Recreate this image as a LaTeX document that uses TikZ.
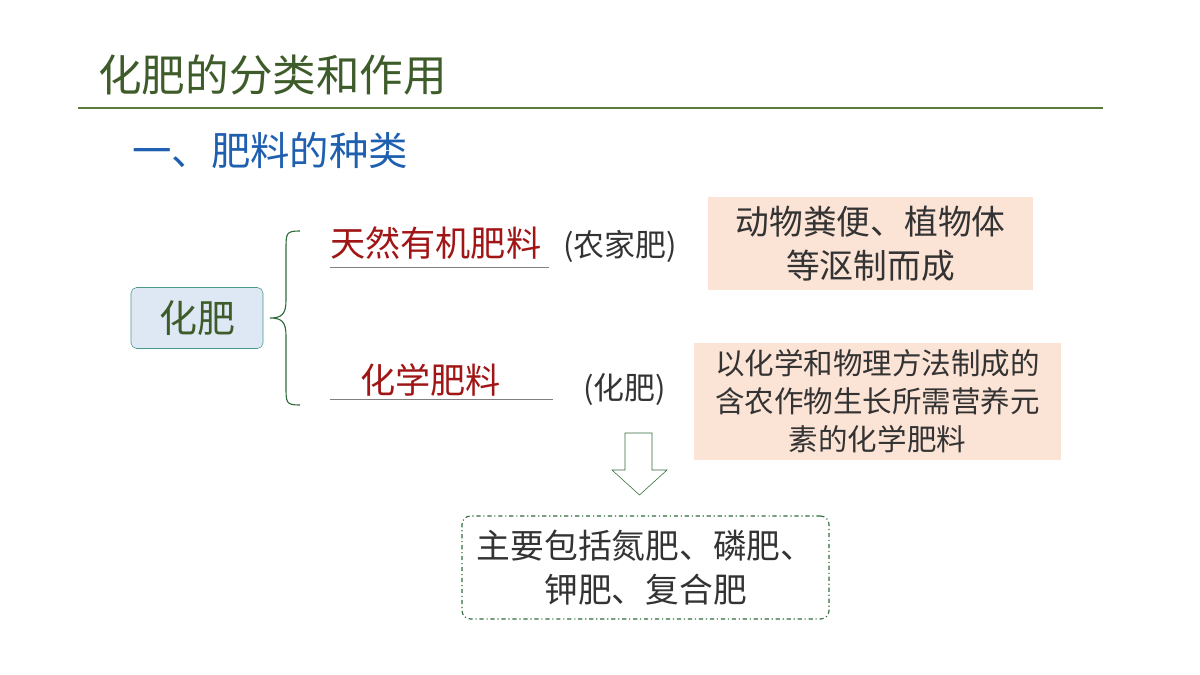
\documentclass[tikz,border=0pt]{standalone}
\usepackage{fontspec}
\setmainfont{Noto Sans CJK SC}
\usetikzlibrary{positioning}
\definecolor{titlegreen}{HTML}{3E5B2A}
\definecolor{rulegreen}{HTML}{5B7B3A}
\definecolor{subblue}{HTML}{1F5FAF}
\definecolor{darkred}{HTML}{A01515}
\definecolor{peach}{HTML}{FBE3D6}
\definecolor{paleblue}{HTML}{DDE8F4}
\definecolor{tealc}{HTML}{4A9A8A}
\definecolor{boxgreen}{HTML}{2F6B3A}
\definecolor{textdark}{HTML}{333333}
\tikzset{
  note/.style={fill=peach, inner sep=0pt, align=center, text=textdark},
  kind/.style={text=darkred, font=\fontsize{25}{30}\selectfont, inner sep=0pt},
  alias/.style={text=textdark, font=\fontsize{22}{26}\selectfont, inner sep=0pt}
}
\begin{document}
\begin{tikzpicture}[x=0.025cm, y=-0.025cm]
  \useasboundingbox (0,0) rectangle (1200,675);

  % Title
  \node[anchor=west, text=titlegreen, font=\fontsize{31}{36}\selectfont, inner sep=0pt] (title) at (98,75) {化肥的分类和作用};
  \draw[rulegreen, line width=1.5pt] (78,108) -- (1103,108);
  \node[anchor=west, text=subblue, font=\fontsize{28}{32}\selectfont, inner sep=0pt] (sub) at (132,150) {一、肥料的种类};

  % Root
  \node[draw=tealc, fill=paleblue, rounded corners=4pt, minimum width=132*0.025cm, minimum height=61*0.025cm,
        text=titlegreen, font=\fontsize{27}{30}\selectfont] (root) at (197,318) {化肥};

  % Brace
  \draw[boxgreen, thick] (300,231) .. controls (286,231) and (286,233) .. (286,250)
    -- (286,300) .. controls (286,314) and (282,318) .. (270,318)
    .. controls (282,318) and (286,322) .. (286,336)
    -- (286,386) .. controls (286,403) and (286,405) .. (300,405);

  % Natural fertiliser
  \node[kind, anchor=west] (natural) at (330,243) {天然有机肥料};
  \draw[gray] (330,267) -- (549,267);
  \node[alias, anchor=west] (farm) at (563,246) {(农家肥)};
  \node[note, minimum width=325*0.025cm, minimum height=93*0.025cm, font=\fontsize{24}{31}\selectfont]
    (noteA) at (870.5,243.5) {动物粪便、植物体\\等沤制而成};

  % Chemical fertiliser
  \node[kind, anchor=west] (chem) at (360,380) {化学肥料};
  \draw[gray] (330,399) -- (553,399);
  \node[alias, anchor=west] (short) at (583,390) {(化肥)};
  \node[note, minimum width=367*0.025cm, minimum height=117*0.025cm, font=\fontsize{21}{27}\selectfont]
    (noteB) at (877.5,401.5) {以化学和物理方法制成的\\含农作物生长所需营养元\\素的化学肥料};

  % Hollow arrow
  \draw[boxgreen, fill=white] (625,433) -- (652,433) -- (652,470) -- (667,470) -- (639.5,495)
    -- (612,470) -- (625,470) -- cycle;

  % Result box
  \node[draw=boxgreen, thick, dash dot, rounded corners=6pt, minimum width=367*0.025cm,
        minimum height=103*0.025cm, align=center, text=textdark, font=\fontsize{24}{31}\selectfont]
    (kinds) at (645.5,567.5) {主要包括氮肥、磷肥、\\钾肥、复合肥};
\end{tikzpicture}
\end{document}
